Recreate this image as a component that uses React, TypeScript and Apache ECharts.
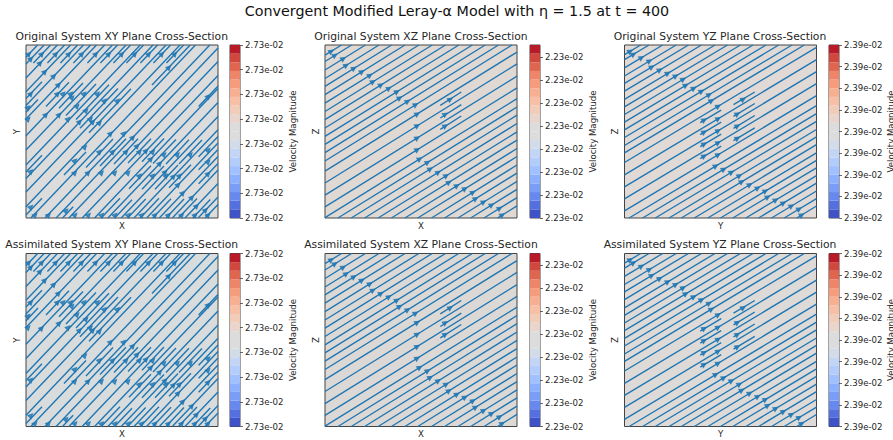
import React, { useEffect, useRef } from "react";
import * as echarts from "echarts";

const suptitle = "Convergent Modified Leray-α Model with η = 1.5 at t = 400";
const panelTitles = [
  "Original System XY Plane Cross-Section",
  "Original System XZ Plane Cross-Section",
  "Original System YZ Plane Cross-Section",
  "Assimilated System XY Plane Cross-Section",
  "Assimilated System XZ Plane Cross-Section",
  "Assimilated System YZ Plane Cross-Section",
];
const colorbarName = "Velocity Magnitude";
const xNames = ["X", "X", "Y", "X", "X", "Y"];
const yNames = ["Y", "Z", "Z", "Y", "Z", "Z"];
const xyTicks = ["2.73e-02","2.73e-02","2.73e-02","2.73e-02","2.73e-02","2.73e-02","2.73e-02","2.73e-02"];
const xzTicks = ["2.23e-02","2.23e-02","2.23e-02","2.23e-02","2.23e-02","2.23e-02","2.23e-02","2.23e-02"];
const yzTicks = ["2.39e-02","2.39e-02","2.39e-02","2.39e-02","2.39e-02","2.39e-02","2.39e-02","2.39e-02","2.39e-02"];
const levelColors = ["#3f53c6","#5470de","#6788ee","#7a9df8","#8db0fe","#a1c0ff","#b2ccfb","#c3d5f4","#d2dbe8","#dddcdc","#dddcdc","#e9d5cb","#f1ccb8","#f6bfa6","#f7af91","#f59c7d","#ee8468","#e0654f","#d0473d","#b91a28"];
const backgrounds = ["#dcdcdc","#e0d8d3","#e0d9d5","#d9dcdc","#dcd8d5","#dedad7"];

const xyLong = [
  [0,154,18.1,173],[0,140,31.4,173],[0,126.3,44.5,173],[0,112.6,57.5,173],[0,99,70.5,173],[0,82.3,86.4,173],
  [0,68,100,173],[0,53,114.3,173],[0,39.6,127,173],[0,26,140,173],[0,11.3,154,173],[4.8,0,169.5,173],[19,0,183.8,173],
  [30.1,0,192,170],[42.9,0,192,156.6],[56.2,0,192,142.6],[68.6,0,192,129.6],[81.9,0,192,115.6],[95.2,0,192,101.6],
  [108,0,192,88.2],[120.6,0,192,75],[133.3,0,192,61.6],[146.3,0,192,48],[159,0,192,34.6],[172.1,0,192,20.9],
];
const xyShort = [
  [0,160.8,11.6,173],[7.4,155,24.6,173],[21.4,155,38.6,173],[34.4,155,51.6,173],[47.4,155,64.6,173],[61.4,155,78.6,173],
  [74.4,155,91.6,173],[87.4,155,104.6,173],[100.4,155,117.6,173],[114.4,155,131.6,173],[127.4,155,144.6,173],[140.4,155,157.6,173],
  [126,132.9,164.2,173],
  [0,119.5,16,136.3],[20,111.6,43,135.8],[33,109.7,57,134.9],[40,102.5,70,134],[50,98.5,83,133.2],[54,89.7,92,129.6],[63,85.2,105,129.3],
  [0,105.8,12,118.4],[172.6,111.5,192,131.9],
  [60,50.5,87,78.9],[74,51.9,100,79.2],[88,54.1,112,79.3],[102,55.1,125,79.3],[116,56.3,138,79.4],[127,54.4,150,78.5],[140,54,163,78.2],[153,54,176,78.1],
  [172.6,61.2,192,81.6],[172.6,48.2,192,68.6],[172.6,34.2,192,54.6],[38,42.9,60,66],
  [103,29.2,125,52.3],[116,28.8,138,51.9],[129,28.8,152,52.9],[143,30.2,165,53.3],
  [0,46,16,62.8],[0,3,16,19.8],[36.5,0,47.2,11.3],
  [75.2,0,94,19.7],[88.6,0,106,18.3],[101.6,0,119.7,19],[114.3,0,133,19.7],[126.7,0,145,19.3],[140,0,158,18.9],[152.4,0,171,19.6],[166.7,0,184.3,18.5],[179,0,192,13.6],
];
const xyArrows = [
  [3,164],[16,164],[30,164],[43,164],[56,164],[70,164],[83,164],[96,164],[109,164],[123,164],[136,164],[149,164],
  [5,159.3],[14.3,155],[19,146.3],[28,142],[32.7,133.3],[143,150.7],
  [5,124.3],[31.7,124.3],[37.3,124.3],[45,124.3],[46.3,120.7],[58.3,124.3],[71.7,124.3],[78.7,117.3],[91.7,117.3],[182.3,121.7],
  [2.3,110.7],[51.3,112],[60.3,107.7],[33.3,103.3],[2.3,99],[42.3,99],[53.7,96.3],[64.7,99],[67,96.3],[73.7,95.3],
  [84.7,84.7],[98,84.7],[107,80.7],[111.3,72],[59,71],
  [73.7,66.3],[87,66.3],[100.3,66.3],[113.7,66.3],[120.3,67.3],[127,66.3],[138.3,63.7],[151.7,63.7],[164.7,63.7],[182.3,68],
  [125,59],[134,54.7],[49,57.3],[182.3,56.3],
  [5,46.7],[49,45.3],[62.3,45.3],[75.7,45.3],[89,45.3],[102.3,45.3],[113.7,42.3],[127,42.3],[139.3,46],[140.3,42.3],[147.7,41.7],[153.7,42.3],[182.3,44.3],
  [152.3,33.3],[157,25],[166,20.7],[170.7,12],[179.7,8],[5,11],[40.3,7.3],
  [9.3,3],[22.7,3],[49.3,3],[62.7,3],[76,3],[89.3,3],[102.7,3],[116,3],[129.3,3],[142.7,3],[156,3],[169.3,3],[182.3,3],
];
const xyOriginalOnly = [[20,103.3]];
const xyAssimilatedOnly = [[15.7,98.3]];

const xzLines = [
  [0,162.8,16.5,173],[0,156.5,26.6,173],[0,148,40.4,173],[0,139.5,54,173],[0,131.7,66.6,173],[0,123.4,80,173],[0,114.8,93.9,173],
  [0,106.5,107.2,173],[0,98.3,120.5,173],[0,90,133.8,173],[0,81.7,147.3,173],[0,73.7,160.2,173],[0,65.4,173.5,173],[0,57,187,173],
  [0,46.8,192,165.9],[0,35,192,154.1],[0,22.8,192,141.8],[0,11.1,192,130.1],[0,0.3,192,119.3],
  [12.9,0,192,111],[26.3,0,192,102.8],[39.6,0,192,94.5],[53.1,0,192,86.1],[66.4,0,192,77.9],[79.9,0,192,69.5],[92.7,0,192,61.5],
  [106.5,0,192,53],[119.6,0,192,44.9],[132.9,0,192,36.6],[145.7,0,192,28.7],[159,0,192,20.4],[172.5,0,192,12.1],
  [115.3,112.7,136.3,126],[115.3,100,136.3,113.3],[115.3,88.7,136.3,102],
];
const xzArrows = [
  [6.3,166.7],[10,162.7],[18.3,159.3],[21.3,152.7],[29,149.7],[37,146.3],[45,142.7],[48,136.3],[56,133],[64,129.7],[72,126.3],
  [74.7,120],[82.7,116.7],[90.7,113.3],[92.3,104],[92.3,92.3],[92.3,80],[92.3,68.3],[94.7,59],[102.7,55.7],[105.3,49],[113.3,45.7],
  [121.3,42.3],[124,35.7],[132,32.3],[140,29.3],[148,25.7],[150.7,19.3],[158.7,16],[166.7,13],[174.7,9.7],[177.3,3],
  [125.3,118.7],[120.3,103.7],[120.3,92],
];
const yzLines = [
  [0,163.3,16.2,173],[0,158.3,24.5,173],[0,150.1,38.2,173],[0,142,51.7,173],[0,134.6,64,173],[0,126.8,77,173],[0,118.7,90.5,173],
  [0,111.2,103,173],[0,103.5,115.9,173],[0,95.9,128.5,173],[0,88.1,141.5,173],[0,80.5,154.2,173],[0,72.5,167.5,173],[0,65.1,179.8,173],
  [0,55.5,192,170.7],[0,43.1,192,158.3],[0,31.1,192,146.3],[0,19.1,192,134.3],[0,7.1,192,122.3],
  [4.6,0,192,112.4],[18.1,0,192,104.3],[30.8,0,192,96.7],[44.5,0,192,88.5],[56.8,0,192,81.1],[69.8,0,192,73.3],[83.3,0,192,65.2],
  [96,0,192,57.6],[108.3,0,192,50.2],[121.3,0,192,42.4],[134,0,192,34.8],[147,0,192,27],[159.7,0,192,19.4],[172.3,0,192,12],
  [109,113.3,130.3,126],[109,101.7,130.3,114.5],[109,89.7,130.3,102.5],[109,77.3,130.3,90.1],
  [75.7,95.3,96.7,107.9],[75.7,83.3,96.7,95.9],[75.7,71.3,96.7,83.9],[75.7,59.3,96.7,71.9],
];
const yzArrows = [
  [5.7,166.7],[9,163.7],[17,160.3],[25,157],[27.3,151],[35.3,148],[43.3,144.7],[51.3,142],[58.7,138.7],[61.3,132.7],[69.3,129.7],
  [77,126.7],[84.7,123.3],[87,117.3],[93.7,111.7],[93.7,99.3],[93.7,87.3],[93.7,75.3],[93.7,63.3],
  [91.3,52],[99.3,48.7],[107,45.7],[115,42.3],[117.3,36.3],[125.3,33.3],[133.3,30],[141,27],[143.3,21],[151.3,18],[159,15],[167,12],[174.7,9],[177.3,3],
  [118.7,118.7],[113,104],[113,92],[113,79.7],[79.7,98],[79.7,86],[79.7,74],[79.7,62],
];

const lineColor = "#1f77b4";
const frameColor = "#444444";
const textColor = "#262626";
const font = "DejaVu Sans";

function segmentsToData(lines: number[][]) {
  const out: any[][] = [];
  lines.forEach(([a, b, c, d]) => {
    out.push([a, b], [c, d], [NaN, NaN]);
  });
  return out;
}

function buildOption() {
  const tops = [45, 253.5];
  const lefts = [26, 325, 624.5];
  const barLefts = [230, 530, 829];
  const titleX = [121.7, 421, 720];
  const titleY = [36, 244.3];
  const nameX = [292.7, 592.7, 891];
  const panelLines = [
    [...xyLong, ...xyShort], xzLines, yzLines,
    [...xyLong, ...xyShort], xzLines, yzLines,
  ];
  const panelArrows = [
    [...xyArrows, ...xyOriginalOnly], xzArrows, yzArrows,
    [...xyArrows, ...xyAssimilatedOnly], xzArrows, yzArrows,
  ];
  const rotations = [-44, -58, -59, -44, -58, -59];
  const tickSets = [xyTicks, xzTicks, yzTicks, xyTicks, xzTicks, yzTicks];
  const tickMax = [7, 7.52, 8, 7, 7.52, 8];

  const grid: any[] = [], xAxis: any[] = [], yAxis: any[] = [], series: any[] = [], graphic: any[] = [];
  const title: any[] = [{
    text: suptitle, left: 457, top: 4, padding: 0, textAlign: "center",
    textStyle: { fontFamily: font, fontSize: 14.3, fontWeight: "normal", color: "#111" },
  }];

  panelTitles.forEach((t, i) => {
    const col = i % 3, row = Math.floor(i / 3);
    title.push({
      text: t, left: titleX[col], top: titleY[row] - 5.5, padding: 0, textAlign: "center",
      textStyle: { fontFamily: font, fontSize: 10.75, fontWeight: "normal", color: textColor },
    });
    grid.push({
      show: true, left: lefts[col], top: tops[row], width: 192, height: 173,
      backgroundColor: backgrounds[i], borderColor: frameColor, borderWidth: 1,
    });
    xAxis.push({
      gridIndex: i, type: "value", min: 0, max: 192, name: xNames[i], nameLocation: "middle", nameGap: 3, nameMoveOverlap: false,
      nameTextStyle: { fontFamily: font, fontSize: 8.6, color: textColor, verticalAlign: "top" },
      axisLine: { show: false }, axisTick: { show: false }, axisLabel: { show: false }, splitLine: { show: false },
    });
    yAxis.push({
      gridIndex: i, type: "value", min: 0, max: 173, name: yNames[i], nameLocation: "middle", nameGap: 5, nameMoveOverlap: false, nameRotate: 90,
      nameTextStyle: { fontFamily: font, fontSize: 8.6, color: textColor },
      axisLine: { show: false }, axisTick: { show: false }, axisLabel: { show: false }, splitLine: { show: false },
    });
    series.push({
      type: "line", xAxisIndex: i, yAxisIndex: i, data: segmentsToData(panelLines[i]), showSymbol: false, symbol: "none",
      connectNulls: false, clip: true, lineStyle: { color: lineColor, width: 1.4 }, silent: true,
    });
    series.push({
      type: "scatter", xAxisIndex: i, yAxisIndex: i, data: panelArrows[i], symbol: "triangle", symbolSize: 4.5,
      symbolRotate: rotations[i], itemStyle: { color: lineColor, borderColor: lineColor, borderWidth: 1 }, clip: false, silent: true,
    });
    graphic.push({
      type: "text", x: nameX[col], y: tops[row] + 86.5, rotation: Math.PI / 2, silent: true,
      style: { text: colorbarName, fontFamily: font, fontSize: 8.6, fill: textColor, textAlign: "center", textVerticalAlign: "middle" },
    });
  });

  panelTitles.forEach((_, i) => {
    const col = i % 3, row = Math.floor(i / 3);
    const g = 6 + i;
    const labels = tickSets[i];
    const ticks = labels.map((_l, k) => k);
    grid.push({
      show: true, left: barLefts[col], top: tops[row], width: 10, height: 173,
      backgroundColor: "transparent", borderColor: frameColor, borderWidth: 1,
    });
    xAxis.push({
      gridIndex: g, type: "value", min: 0, max: 1,
      axisLine: { show: false }, axisTick: { show: false }, axisLabel: { show: false }, splitLine: { show: false },
    });
    const catIndex = yAxis.length;
    yAxis.push({
      gridIndex: g, type: "category", data: levelColors.map((_c, k) => k), boundaryGap: true,
      axisLine: { show: false }, axisTick: { show: false }, axisLabel: { show: false }, splitLine: { show: false },
    });
    yAxis.push({
      gridIndex: g, type: "value", position: "right", min: 0, max: tickMax[i], interval: 1,
      axisLine: { show: false },
      axisTick: { show: true, length: 3, customValues: ticks, lineStyle: { color: frameColor, width: 0.8 } },
      axisLabel: {
        show: true, margin: 5, customValues: ticks, fontFamily: font, fontSize: 8.6, color: textColor,
        showMinLabel: true, showMaxLabel: true, hideOverlap: false,
        formatter: (v: number) => labels[Math.round(v)] ?? "",
      },
      splitLine: { show: false },
    });
    series.push({
      type: "bar", xAxisIndex: g, yAxisIndex: catIndex, barCategoryGap: "0%", barWidth: "100%",
      data: levelColors.map((c) => ({ value: 1, itemStyle: { color: c } })), silent: true,
    });
  });

  return { animation: false, backgroundColor: "#ffffff", tooltip: { show: false }, title, grid, xAxis, yAxis, series, graphic };
}

export default function App() {
  const ref = useRef<HTMLDivElement>(null);
  useEffect(() => {
    document.body.style.margin = "0";
    const chart = echarts.init(ref.current!, undefined, { renderer: "svg" });
    chart.setOption(buildOption() as any);
    return () => chart.dispose();
  }, []);
  return <div ref={ref} style={{ width: 893, height: 440 }} />;
}
